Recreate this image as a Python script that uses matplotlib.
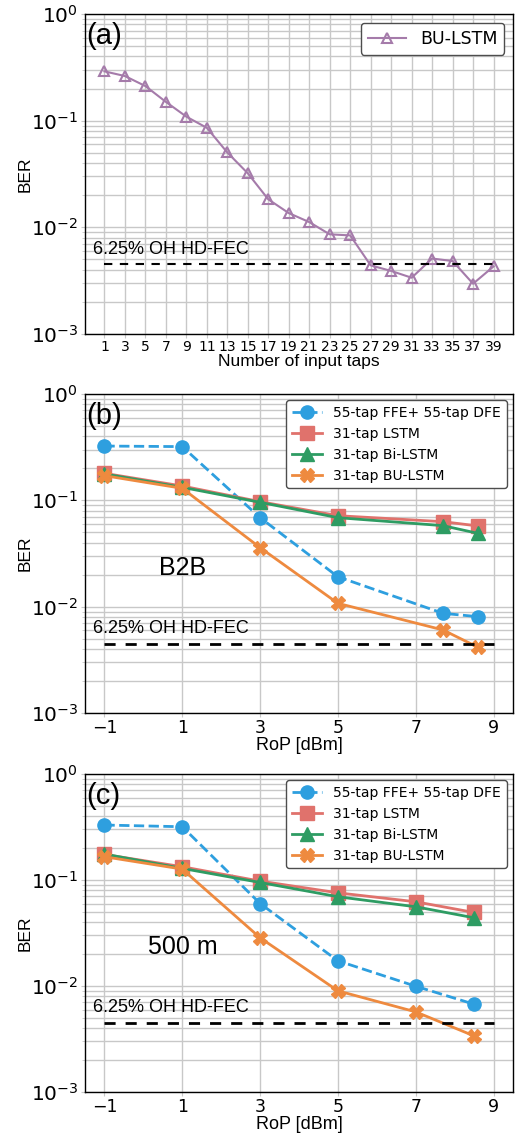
import matplotlib
matplotlib.use("Agg")
import matplotlib.pyplot as plt
import numpy as np

OUTPUT_IMAGE = "out.png"

# --- data ---
# (a) BER vs number of input taps
taps = [1, 3, 5, 7, 9, 11, 13, 15, 17, 19, 21, 23, 25, 27, 29, 31, 33, 35, 37, 39]
ber_taps = [0.29, 0.262, 0.211, 0.150, 0.109, 0.0857, 0.0503, 0.0321, 0.0183, 0.0136,
            0.0112, 0.0086, 0.0084, 0.0044, 0.0039, 0.00337, 0.0051, 0.00483, 0.00296, 0.0043]

# (b) B2B
rop_b = [-1, 1, 3, 5, 7.7, 8.6]
b_ffe = [0.324, 0.320, 0.0687, 0.0191, 0.00866, 0.00805]
b_lstm = [0.1795, 0.1364, 0.0972, 0.0717, 0.0630, 0.0574]
b_bilstm = [0.177, 0.1325, 0.0958, 0.0687, 0.0578, 0.0489]
b_bulstm = [0.1706, 0.1297, 0.0359, 0.01075, 0.00604, 0.00415]

# (c) 500 m
rop_c = [-1, 1, 3, 5, 7, 8.5]
c_ffe = [0.330, 0.318, 0.0600, 0.01727, 0.00995, 0.00673]
c_lstm = [0.1743, 0.1334, 0.0976, 0.0757, 0.0623, 0.0494]
c_bilstm = [0.1757, 0.1286, 0.0948, 0.0695, 0.0559, 0.0440]
c_bulstm = [0.1657, 0.1267, 0.0285, 0.0090, 0.0057, 0.00338]

FEC = 4.5e-3
FEC_LABEL = "6.25% OH HD-FEC"
LABELS = ["55-tap FFE+ 55-tap DFE", "31-tap LSTM", "31-tap Bi-LSTM", "31-tap BU-LSTM"]

BLUE = "#2e9fdf"
RED = "#e0726c"
GREEN = "#2e9c63"
ORANGE = "#ee8a3f"
PURPLE = "#a57baa"
GRID = "#c8c8c8"
SANS = "Liberation Sans"


def style_axes(ax):
    ax.set_yscale("log")
    ax.set_ylim(1e-3, 1)
    ax.grid(True, which="major", color=GRID, lw=1.0)
    ax.grid(True, which="minor", axis="y", color=GRID, lw=1.0)
    ax.tick_params(axis="y", which="major", labelsize=14.5, color=GRID, length=3, pad=2)
    ax.tick_params(axis="y", which="minor", color=GRID, length=2)
    ax.tick_params(axis="x", color=GRID, length=3, pad=1.5)
    ax.set_ylabel("BER", family=SANS, fontsize=12.5)
    ax.yaxis.set_label_coords(-0.122, 0.5)
    for s in ax.spines.values():
        s.set_color("black")
        s.set_linewidth(1.0)


def fec_text(ax):
    ax.text(0.019, 0.25, FEC_LABEL, transform=ax.transAxes, family=SANS,
            fontsize=13, ha="left", va="baseline")


def panel_tag(ax, tag):
    ax.text(0.003, 0.975, tag, transform=ax.transAxes, family=SANS,
            fontsize=21, ha="left", va="top")


def rop_panel(ax, x, ffe, lstm, bilstm, bulstm, tag, note):
    ax.plot(x, ffe, "--o", color=BLUE, lw=2, ms=9.5, label=LABELS[0])
    ax.plot(x, lstm, "-s", color=RED, lw=2, ms=9.5, label=LABELS[1])
    ax.plot(x, bilstm, "-^", color=GREEN, lw=2, ms=9.5, label=LABELS[2])
    ax.plot(x, bulstm, "-X", color=ORANGE, lw=2, ms=10, label=LABELS[3])
    ax.plot([-1, 9], [FEC, FEC], color="black", lw=2, dashes=(4, 3.6))
    style_axes(ax)
    ax.set_xlim(-1.5, 9.5)
    ax.set_xticks([-1, 1, 3, 5, 7, 9])
    ax.tick_params(axis="x", labelsize=12.5)
    ax.set_xlabel("RoP [dBm]", family=SANS, fontsize=13, labelpad=0)
    leg = ax.legend(loc="upper right", fontsize=10, framealpha=1,
                    edgecolor="0.3", handlelength=2.2, borderaxespad=0.45)
    leg.get_frame().set_linewidth(1.0)
    fec_text(ax)
    panel_tag(ax, tag)
    ax.text(0.229, 0.455, note, transform=ax.transAxes, family=SANS,
            fontsize=18, ha="center", va="center")


def main():
    fig = plt.figure(figsize=(5.16, 11.35), dpi=100)
    left, width = 85 / 516, 428 / 516
    ax_a = fig.add_axes([left, 1 - 334 / 1135, width, 320 / 1135])
    ax_b = fig.add_axes([left, 1 - 713 / 1135, width, 319 / 1135])
    ax_c = fig.add_axes([left, 1 - 1092 / 1135, width, 318 / 1135])

    # (a)
    ax_a.plot(taps, ber_taps, "-^", color=PURPLE, lw=1.5, ms=7, mfc="none",
              mew=1.5, label="BU-LSTM")
    ax_a.plot([taps[0], taps[-1]], [FEC, FEC], color="black", lw=1.5, dashes=(4, 3.6))
    style_axes(ax_a)
    ax_a.set_xticks(taps)
    ax_a.tick_params(axis="x", labelsize=10)
    ax_a.set_xlabel("Number of input taps", family=SANS, fontsize=12.5, labelpad=0)
    leg = ax_a.legend(loc="upper right", fontsize=12.5, framealpha=1,
                      edgecolor="0.3", handlelength=2.2, borderaxespad=0.5)
    leg.get_frame().set_linewidth(1.0)
    fec_text(ax_a)
    panel_tag(ax_a, "(a)")

    # (b), (c)
    rop_panel(ax_b, rop_b, b_ffe, b_lstm, b_bilstm, b_bulstm, "(b)", "B2B")
    rop_panel(ax_c, rop_c, c_ffe, c_lstm, c_bilstm, c_bulstm, "(c)", "500 m")

    fig.savefig(OUTPUT_IMAGE, dpi=100)


if __name__ == "__main__":
    main()
